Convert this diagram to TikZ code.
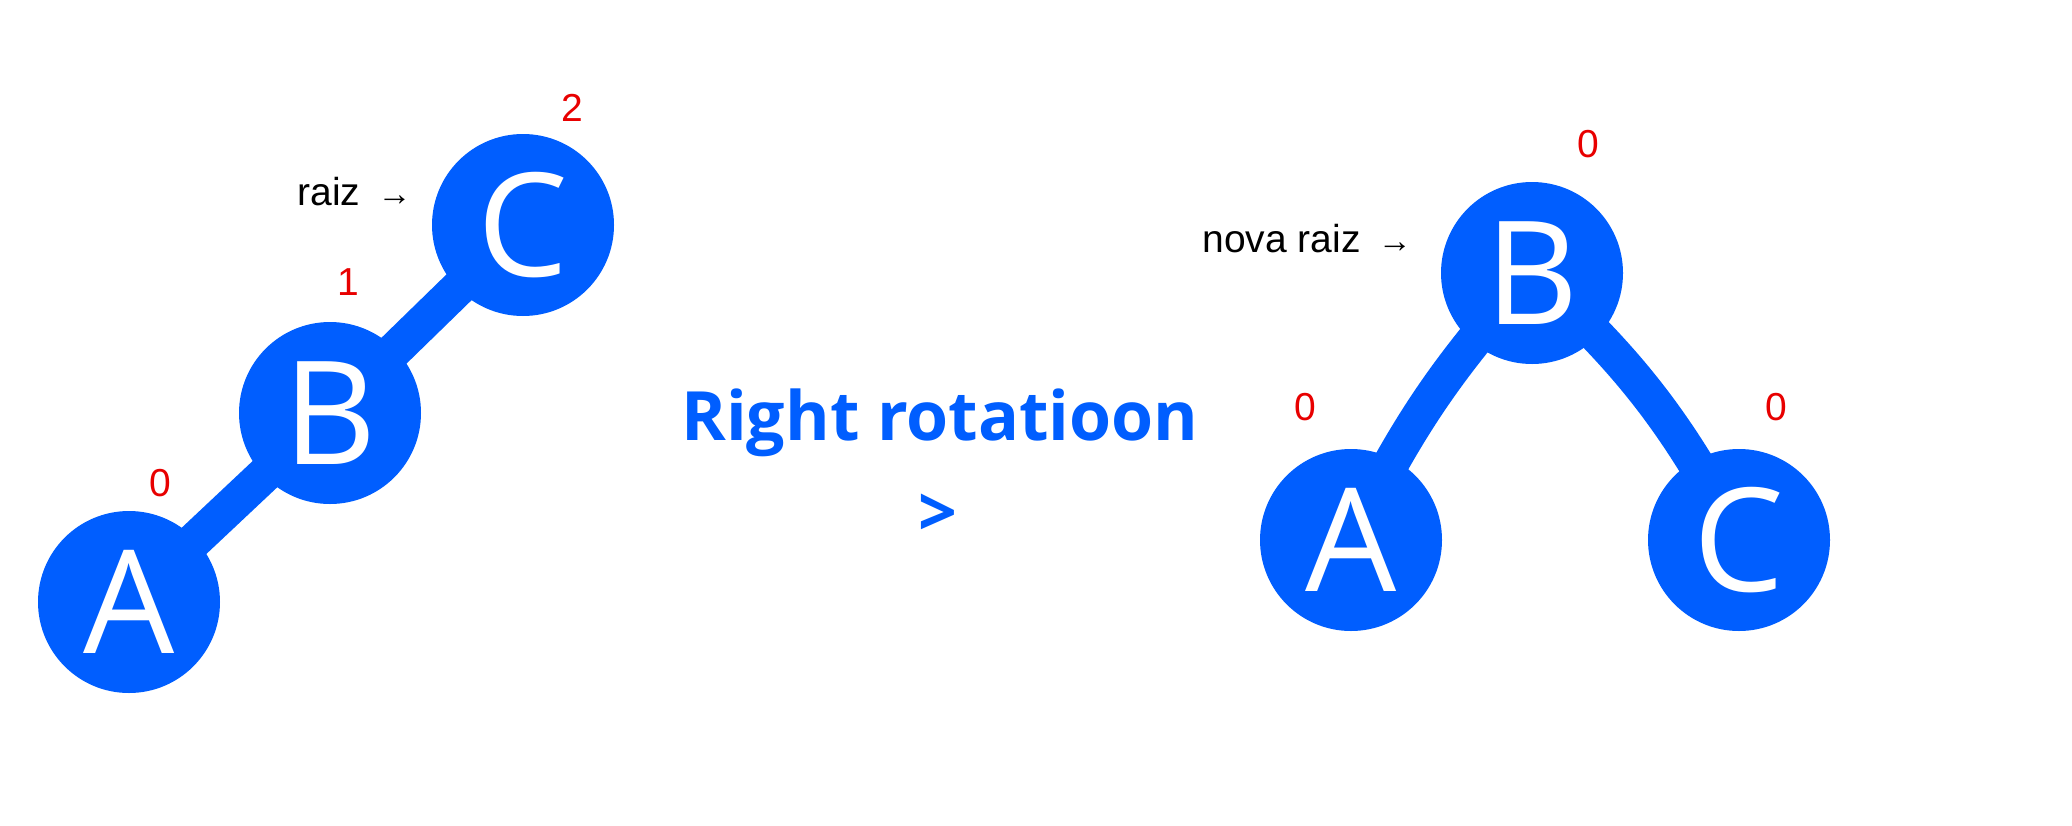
\documentclass[tikz,border=0pt]{standalone}
\usepackage{fontspec}
\usetikzlibrary{backgrounds}
\setmainfont{Liberation Sans}
\newfontfamily\letterfont{Open Sans}
\newfontfamily\titlefont{Open Sans}
\definecolor{nodeblue}{RGB}{0,94,255}
\definecolor{numred}{RGB}{232,0,0}
\begin{document}
\begin{tikzpicture}[x=0.5pt,y=-0.5pt,
  treenode/.style={circle,fill=nodeblue,minimum size=91pt,inner sep=0pt,
    text=white,font=\letterfont\fontsize{72}{72}\selectfont},
  treeedge/.style={draw=nodeblue,line width=18pt},
  balance/.style={text=numred,font=\fontsize{19.5}{20}\selectfont,inner sep=0pt},
  pointer/.style={text=black,font=\fontsize{19.5}{20}\selectfont,inner sep=0pt,anchor=base west},
  title/.style={text=nodeblue,font=\titlefont\bfseries\fontsize{34}{36}\selectfont,inner sep=0pt}]
\useasboundingbox (0,0) rectangle (2072,825);
% left tree
\node[treenode] (lA) at (129,602) {A};
\node[treenode] (lB) at (330,413) {B};
\node[treenode] (lC) at (523,225) {C};
\node[balance] (lCb) at (572,108) {2};
\node[balance] (lBb) at (348,282) {1};
\node[balance] (lAb) at (160,483) {0};
\node[pointer] (raiz) at (297,205) {raiz \,{\fontsize{17}{17}\selectfont →}};
% middle
\node[title] (rot) at (940,423) {Right rotatioon};
\node[title] (gt) at (938,515) {>};
% right tree
\node[treenode] (rB) at (1532,273) {B};
\node[treenode] (rA) at (1351,540) {A};
\node[treenode] (rC) at (1739,540) {C};
\node[balance] (rBb) at (1588,144) {0};
\node[balance] (rAb) at (1305,407) {0};
\node[balance] (rCb) at (1776,407) {0};
\node[pointer] (nraiz) at (1202,252) {nova raiz \,{\fontsize{17}{17}\selectfont →}};
\begin{scope}[on background layer]
\draw[treeedge] (lA.center) -- (lB.center);
\draw[treeedge] (lB.center) -- (lC.center);
\draw[treeedge] (rB.center) to[bend right=8] (rA.center);
\draw[treeedge] (rB.center) to[bend left=10] (rC.center);
\end{scope}
\end{tikzpicture}
\end{document}
